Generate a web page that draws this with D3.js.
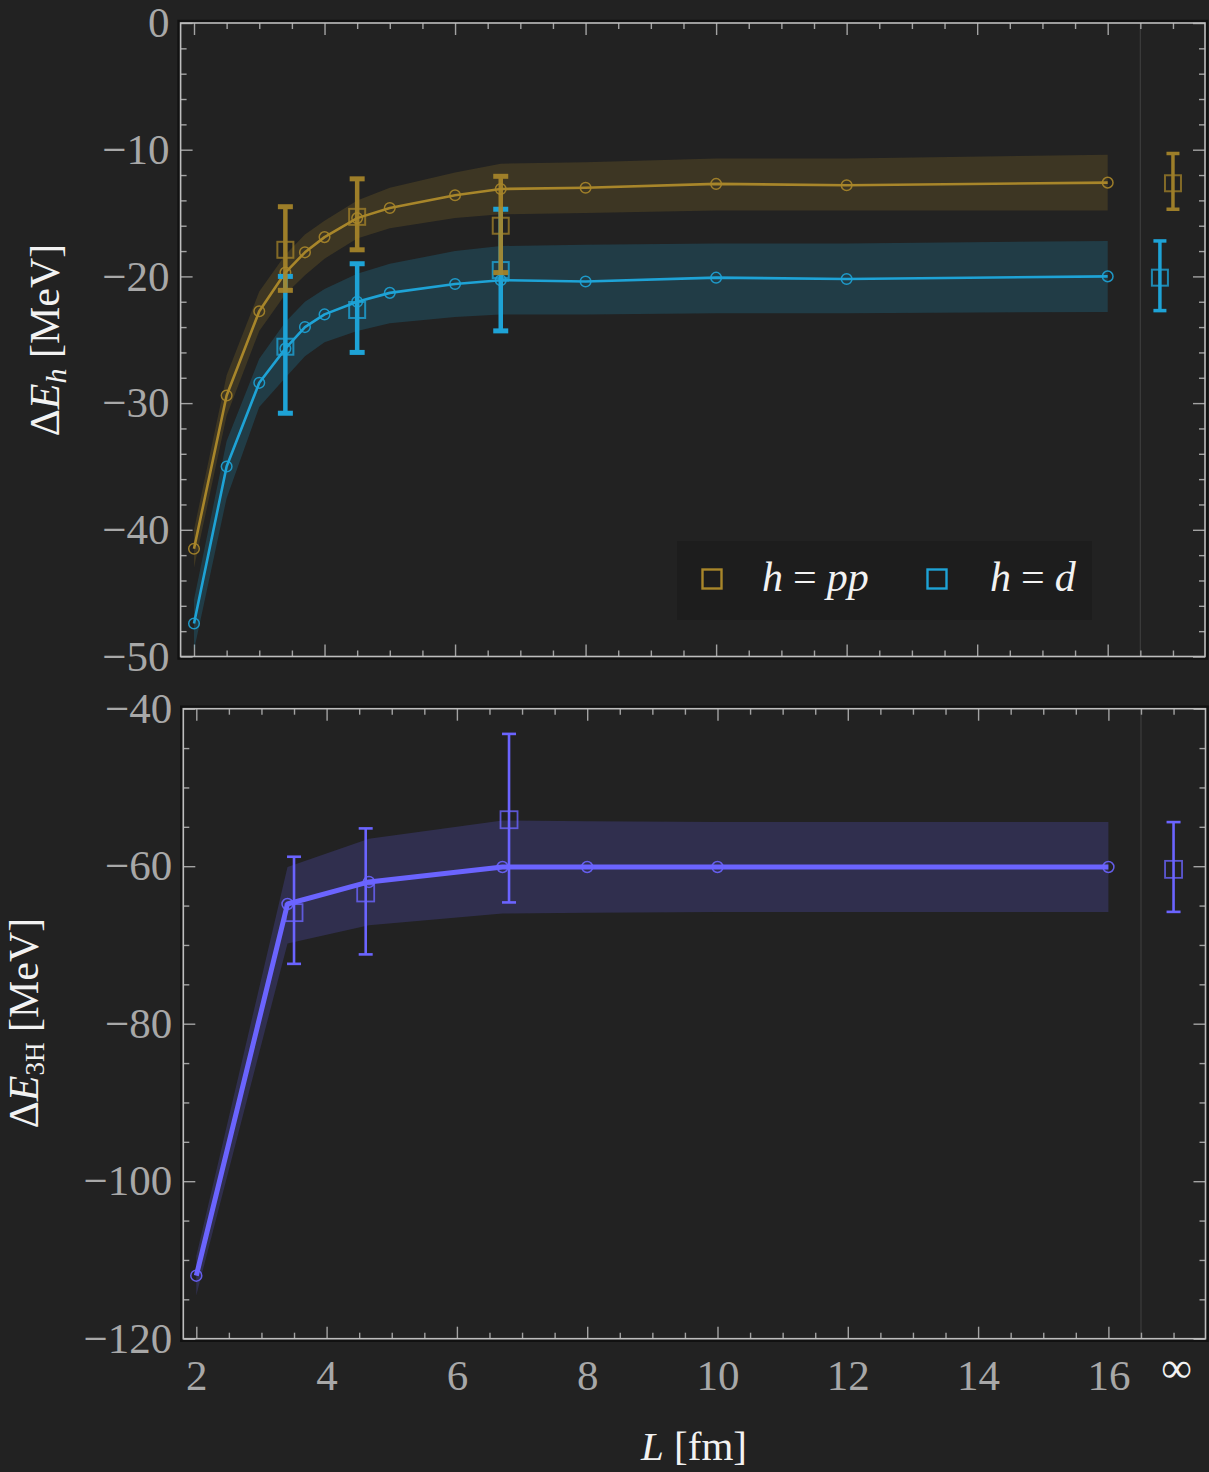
<!DOCTYPE html>
<html><head><meta charset="utf-8">
<script src="https://cdn.jsdelivr.net/npm/d3@7"></script>
<style>html,body{margin:0;padding:0;background:#222222;} svg{display:block}</style>
</head><body>
<svg id="c" width="1209" height="1472"></svg>
<script>
// ---------------- DATA ----------------
const Lgrid = [2, 2.5, 3, 3.4, 3.7, 4, 4.5, 5, 6, 6.7, 8, 10, 12, 16];
const ppCentral = [-41.5, -29.4, -22.75, -19.7, -18.1, -16.9, -15.4, -14.6, -13.6, -13.1, -13.0, -12.7, -12.8, -12.6];
const ppUpper   = [-40.0, -27.8, -21.2, -18.3, -16.7, -15.6, -14.0, -13.0, -11.8, -11.1, -11.0, -10.7, -10.7, -10.4];
const ppLower   = [-43.0, -31.0, -24.3, -21.4, -19.9, -18.6, -17.0, -16.2, -15.4, -15.1, -15.0, -14.8, -14.8, -14.8];
const dCentral  = [-47.4, -35.0, -28.4, -25.7, -24.0, -23.0, -22.0, -21.3, -20.6, -20.3, -20.4, -20.1, -20.2, -20.0];
const dUpper    = [-45.5, -33.0, -26.5, -23.6, -22.0, -21.0, -19.8, -19.0, -18.0, -17.6, -17.5, -17.4, -17.4, -17.2];
const dLower    = [-49.5, -37.5, -30.3, -28.0, -26.3, -25.2, -24.3, -23.7, -23.2, -23.0, -23.0, -22.9, -22.9, -22.8];

const ppErrL   = [3.4, 4.5, 6.7, 17.0];
const ppErrVal = [-17.9, -15.3, -16.0, -12.65];
const ppErrHi  = [-14.5, -12.3, -12.1, -10.3];
const ppErrLo  = [-21.1, -17.9, -19.7, -14.7];
const dErrL    = [3.4, 4.5, 6.7, 16.8];
const dErrVal  = [-25.55, -22.65, -19.5, -20.1];
const dErrHi   = [-20.0, -19.0, -14.7, -17.2];
const dErrLo   = [-30.8, -26.0, -24.3, -22.7];

const tritonL       = [2, 3.4, 4.65, 6.7, 8, 10, 16];
const tritonCentral = [-112.0, -64.8, -62.0, -60.1, -60.1, -60.1, -60.1];
const tritonUpper   = [-109.5, -60.1, -56.5, -54.2, -54.3, -54.4, -54.4];
const tritonLower   = [-114.5, -69.8, -67.5, -66.0, -65.9, -65.8, -65.8];
const tritonErrL    = [3.5, 4.6, 6.8, 17.0];
const tritonErrVal  = [-65.9, -63.4, -54.1, -60.4];
const tritonErrHi   = [-58.8, -55.2, -43.2, -54.4];
const tritonErrLo   = [-72.4, -71.2, -64.6, -65.8];

const xMajorTicks = [2, 4, 6, 8, 10, 12, 14, 16];
const xTickLabels = ["2", "4", "6", "8", "10", "12", "14", "16"];
const infinityLabel = "∞";
const infinityPos = 17;
const separatorPos = 16.5;
const topYTicks = [0, -10, -20, -30, -40, -50];
const bottomYTicks = [-40, -60, -80, -100, -120];
const legendNames = ["pp", "d"];

// ---------------- STYLE ----------------
const BG = "#222222";
const GOLD = "#a8862a";
const BLUE = "#1ea3d6";
const PURPLE = "#6b64ff";
const TICK = "#a3a3a3";
const FRAME = "#bdbdbd";
const LABEL = "#a8a8a8";
const TITLE = "#f2f2f2";
const FONT = "'Liberation Serif', 'DejaVu Serif', serif";

const svg = d3.select("#c");
svg.append("rect").attr("width", 1209).attr("height", 1472).attr("fill", BG);

const fmt = d => d < 0 ? "\u2212" + Math.abs(d) : String(d);
const range = (a, b, s) => { const r = []; for (let v = a; v <= b + 1e-9; v += s) r.push(+v.toFixed(3)); return r; };

function makePanel(box, xs, ys, yMajor, yMinorStep, showXLabels, id) {
  const g = svg.append("g");
  g.append("rect").attr("x", box.l - 2).attr("y", box.t - 2)
    .attr("width", box.r - box.l + 4).attr("height", box.b - box.t + 4)
    .attr("fill", "none").attr("stroke", "#111").attr("stroke-width", 2.5);
  svg.append("clipPath").attr("id", id).append("rect")
    .attr("x", box.l).attr("y", box.t).attr("width", box.r - box.l).attr("height", box.b - box.t);

  g.append("line").attr("x1", xs(separatorPos)).attr("x2", xs(separatorPos))
    .attr("y1", box.t).attr("y2", box.b).attr("stroke", "#3d3d3d").attr("stroke-width", 1.2);

  const xMinor = range(2, 17, 0.5).filter(v => !xMajorTicks.includes(v));
  const [y0, y1] = ys.domain();
  const yMinor = range(Math.min(y0, y1), Math.max(y0, y1), yMinorStep).filter(v => !yMajor.includes(v));

  const style = (sel) => {
    sel.select(".domain").remove();
    sel.selectAll(".tick line").attr("stroke", TICK).attr("stroke-width", 1.4);
    sel.attr("font-family", FONT).attr("font-size", 43);
    sel.selectAll(".tick text").attr("fill", LABEL);
  };
  g.append("g").attr("transform", `translate(0,${box.b})`)
    .call(d3.axisBottom(xs).tickValues(xMajorTicks).tickSize(-12).tickPadding(21)
      .tickFormat((d, i) => showXLabels ? xTickLabels[i] : "")).call(style);
  g.append("g").attr("transform", `translate(0,${box.b})`)
    .call(d3.axisBottom(xs).tickValues(xMinor).tickSize(-6).tickFormat("")).call(style);
  g.append("g").attr("transform", `translate(0,${box.t})`)
    .call(d3.axisTop(xs).tickValues(xMajorTicks).tickSize(-12).tickFormat("")).call(style);
  g.append("g").attr("transform", `translate(0,${box.t})`)
    .call(d3.axisTop(xs).tickValues(xMinor).tickSize(-6).tickFormat("")).call(style);
  g.append("g").attr("transform", `translate(${box.l},0)`)
    .call(d3.axisLeft(ys).tickValues(yMajor).tickSize(-12).tickPadding(11).tickFormat(fmt)).call(style);
  g.append("g").attr("transform", `translate(${box.l},0)`)
    .call(d3.axisLeft(ys).tickValues(yMinor).tickSize(-6).tickFormat("")).call(style);
  g.append("g").attr("transform", `translate(${box.r},0)`)
    .call(d3.axisRight(ys).tickValues(yMajor).tickSize(-12).tickFormat("")).call(style);
  g.append("g").attr("transform", `translate(${box.r},0)`)
    .call(d3.axisRight(ys).tickValues(yMinor).tickSize(-6).tickFormat("")).call(style);

  g.append("rect").attr("x", box.l).attr("y", box.t)
    .attr("width", box.r - box.l).attr("height", box.b - box.t)
    .attr("fill", "none").attr("stroke", FRAME).attr("stroke-width", 1.6);
  return svg.append("g").attr("clip-path", `url(#${id})`);
}

function drawSeries(plot, xs, ys, L, c, hi, lo, color, bandOpacity) {
  const rows = L.map((l, i) => ({ L: l, c: c[i], hi: hi[i], lo: lo[i] }));
  plot.append("path").datum(rows)
    .attr("d", d3.area().x(d => xs(d.L)).y0(d => ys(d.lo)).y1(d => ys(d.hi)))
    .attr("fill", color).attr("fill-opacity", bandOpacity);
  return rows;
}
function drawLine(plot, xs, ys, rows, color, lw, r) {
  plot.append("path").datum(rows)
    .attr("d", d3.line().x(d => xs(d.L)).y(d => ys(d.c)))
    .attr("fill", "none").attr("stroke", color).attr("stroke-width", lw).attr("stroke-linejoin", "round");
  plot.selectAll(null).data(rows).enter().append("circle")
    .attr("cx", d => xs(d.L)).attr("cy", d => ys(d.c)).attr("r", r)
    .attr("fill", "none").attr("stroke", color).attr("stroke-width", 1.5).attr("stroke-opacity", 0.9);
}
function drawErrors(g, xs, ys, L, v, hi, lo, color, opts) {
  const rows = L.map((l, i) => ({ L: l, v: v[i], hi: hi[i], lo: lo[i], inf: l > separatorPos }));
  const eg = g.append("g").attr("opacity", opts.opacity || 1);
  rows.forEach(d => {
    const w = d.inf ? opts.infW : opts.w;
    const cw = d.inf ? opts.infCapW : opts.capW;
    const ch = d.inf ? opts.infCapH : opts.capH;
    const x = xs(d.L);
    eg.append("line").attr("x1", x).attr("x2", x).attr("y1", ys(d.hi)).attr("y2", ys(d.lo))
      .attr("stroke", color).attr("stroke-width", w);
    [d.hi, d.lo].forEach(e => {
      eg.append("rect").attr("x", x - cw / 2).attr("y", ys(e) - ch / 2)
        .attr("width", cw).attr("height", ch).attr("fill", color);
    });
    eg.append("rect").attr("x", x - opts.sq / 2).attr("y", ys(d.v) - opts.sq / 2)
      .attr("width", opts.sq).attr("height", opts.sq)
      .attr("fill", "none").attr("stroke", color).attr("stroke-width", opts.sqW)
      .attr("stroke-opacity", 0.8);
  });
}

// ---------------- TOP PANEL ----------------
const topBox = { l: 180.6, r: 1205, t: 23, b: 656.5 };
const xTop = d3.scaleLinear().domain([2, 16]).range([194, 1107.7]);
const yTop = d3.scaleLinear().domain([-50, 0]).range([topBox.b, topBox.t]);
const plotTop = makePanel(topBox, xTop, yTop, topYTicks, 2, false, "clipTop");

const ppRows = drawSeries(plotTop, xTop, yTop, Lgrid, ppCentral, ppUpper, ppLower, GOLD, 0.2);
const dRows = drawSeries(plotTop, xTop, yTop, Lgrid, dCentral, dUpper, dLower, BLUE, 0.2);
drawLine(plotTop, xTop, yTop, ppRows, GOLD, 2.6, 5.3);
drawLine(plotTop, xTop, yTop, dRows, BLUE, 2.6, 5.3);
const topErrOpts = { w: 4.5, capW: 15, capH: 5, infW: 3.5, infCapW: 13, infCapH: 3.5, sq: 16, sqW: 2 };
drawErrors(svg, xTop, yTop, dErrL, dErrVal, dErrHi, dErrLo, BLUE, topErrOpts);
drawErrors(svg, xTop, yTop, ppErrL, ppErrVal, ppErrHi, ppErrLo, GOLD, Object.assign({ opacity: 0.92 }, topErrOpts));

// legend
const leg = svg.append("g");
leg.append("rect").attr("x", 677).attr("y", 541).attr("width", 415).attr("height", 79).attr("fill", "#1d1d1d");
const legItems = [{ name: legendNames[0], color: GOLD, sx: 712, tx: 762 }, { name: legendNames[1], color: BLUE, sx: 937, tx: 990 }];
legItems.forEach(it => {
  leg.append("rect").attr("x", it.sx - 9.5).attr("y", 579 - 9.5).attr("width", 19).attr("height", 19)
    .attr("fill", "none").attr("stroke", it.color).attr("stroke-width", 2.4);
  const t = leg.append("text").attr("x", it.tx).attr("y", 591).attr("font-family", FONT)
    .attr("font-size", 42).attr("fill", TITLE);
  t.append("tspan").attr("font-style", "italic").text("h");
  t.append("tspan").attr("dx", 10).text("=");
  t.append("tspan").attr("dx", 10).attr("font-style", "italic").text(it.name);
});

// top y title
const tt = svg.append("text").attr("transform", "translate(59,340) rotate(-90)")
  .attr("text-anchor", "middle").attr("font-family", FONT).attr("font-size", 42).attr("fill", TITLE);
tt.append("tspan").text("Δ");
tt.append("tspan").attr("font-style", "italic").text("E");
tt.append("tspan").attr("font-style", "italic").attr("font-size", 30).attr("dy", 7).text("h");
tt.append("tspan").attr("dy", -7).text(" [MeV]");

// ---------------- BOTTOM PANEL ----------------
const botBox = { l: 183.3, r: 1205.5, t: 708.7, b: 1338.7 };
const xBot = d3.scaleLinear().domain([2, 16]).range([196.3, 1108.4]);
const yBot = d3.scaleLinear().domain([-120, -40]).range([botBox.b, botBox.t]);
const plotBot = makePanel(botBox, xBot, yBot, bottomYTicks, 5, true, "clipBot");
const tRows = drawSeries(plotBot, xBot, yBot, tritonL, tritonCentral, tritonUpper, tritonLower, PURPLE, 0.2);
drawLine(plotBot, xBot, yBot, tRows, PURPLE, 5, 5.5);
drawErrors(svg, xBot, yBot, tritonErrL, tritonErrVal, tritonErrHi, tritonErrLo, PURPLE,
  { w: 2.6, capW: 14, capH: 2.6, infW: 2.6, infCapW: 14, infCapH: 2.6, sq: 17, sqW: 1.8 });

svg.append("text").attr("x", xBot(infinityPos) + 3).attr("y", 1382).attr("text-anchor", "middle")
  .attr("font-family", FONT).attr("font-size", 43).attr("fill", TITLE).text(infinityLabel);

const bt = svg.append("text").attr("transform", "translate(38,1023) rotate(-90)")
  .attr("text-anchor", "middle").attr("font-family", FONT).attr("font-size", 42).attr("fill", TITLE);
bt.append("tspan").text("Δ");
bt.append("tspan").attr("font-style", "italic").text("E");
bt.append("tspan").attr("font-size", 27).attr("dy", 6).text("3H");
bt.append("tspan").attr("dy", -6).text(" [MeV]");

const xt = svg.append("text").attr("x", 694).attr("y", 1460).attr("text-anchor", "middle")
  .attr("font-family", FONT).attr("font-size", 41).attr("fill", TITLE);
xt.append("tspan").attr("font-style", "italic").text("L");
xt.append("tspan").text(" [fm]");
</script>
</body></html>
